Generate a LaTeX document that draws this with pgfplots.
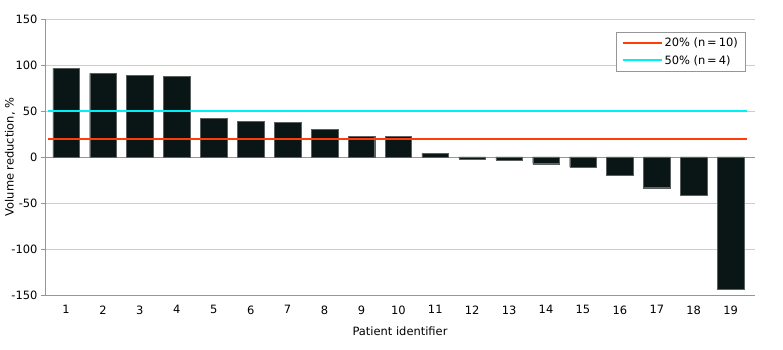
\documentclass[border=0pt]{standalone}
\usepackage{xcolor}
\usepackage{pgfplots}
\pgfplotsset{compat=1.18}
\usepackage{fontspec}
\setmainfont{DejaVu Sans}
\definecolor{barcol}{HTML}{0A1616}
\definecolor{baredge}{HTML}{5A6060}
\definecolor{refred}{HTML}{FF3C0A}
\definecolor{refcyan}{HTML}{00F0F5}
\definecolor{gridc}{HTML}{CDCDCD}
\definecolor{axc}{HTML}{969696}
\begin{document}
\begin{tikzpicture}
\begin{axis}[
  scale only axis,
  width=710bp, height=276bp,
  xmin=0.43, xmax=19.66,
  ymin=-150, ymax=150,
  ytick={-150,-100,...,150},
  xtick={1,...,19},
  major x tick style={draw=none},
  y tick style={axc},
  tick align=outside,
  major tick length=4bp,
  axis x line*=bottom,
  x axis line style={draw=none},
  axis y line*=left,
  y axis line style={axc, line width=0.8pt},
  ymajorgrids,
  grid style={gridc, line width=0.8pt},
  extra y ticks={-150,0},
  extra y tick labels={},
  extra y tick style={grid style={axc, line width=0.8pt}, major tick length=0pt},
  font=\fontsize{11.5}{13}\selectfont,
  /pgf/number format/assume math mode=true,
  ylabel={Volume reduction, \%},
  ylabel style={at={(axis description cs:-0.0493,0.5)}, anchor=center},
  xlabel={Patient identifier},
  xlabel style={at={(axis description cs:0.5,-0.1304)}, anchor=center},
  xticklabel style={yshift=-3bp},
  legend style={at={(axis description cs:1,1)}, anchor=north east, xshift=-10bp, yshift=-13bp,
    draw=axc, fill=white,
    font=\fontsize{11.5}{13}\selectfont, row sep=3bp, inner xsep=5bp, inner ysep=4bp},
  legend cell align=left,
  clip=false,
]
\addlegendimage{legend image code/.code={\draw[refred, line width=2bp] (0bp,0bp) -- (39bp,0bp);}}
\addlegendentry{20\% (n\,=\,10)}
\addlegendimage{legend image code/.code={\draw[refcyan, line width=2bp] (0bp,0bp) -- (39bp,0bp);}}
\addlegendentry{50\% (n\,=\,4)}
\addplot[ybar, bar width=0.72, fill=barcol, draw=baredge, line width=0.3pt, forget plot] coordinates {
(1,96.4) (2,91) (3,89) (4,88) (5,42) (6,38.6) (7,37.8) (8,29.9) (9,22.6) (10,22.6)
(11,4) (12,-2) (13,-3.3) (14,-7.3) (15,-10.9) (16,-19.3) (17,-33.4) (18,-41.4) (19,-143.6)};
\addplot[refred, line width=2bp, forget plot] coordinates {(0.5,20) (19.45,20)};
\addplot[refcyan, line width=2bp, forget plot] coordinates {(0.5,50) (19.45,50)};
\end{axis}
\pgfresetboundingbox
\path[use as bounding box] ([shift={(-45bp,-55bp)}]current axis.south west) rectangle ([shift={(28bp,19bp)}]current axis.north east);
\end{tikzpicture}
\end{document}
